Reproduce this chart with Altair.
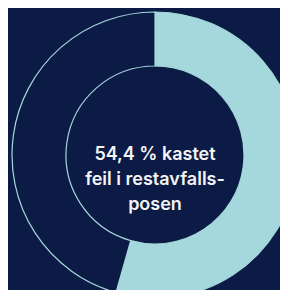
import altair as alt
import pandas as pd

parts = ["feil", "riktig"]
values = [54.4, 45.6]
order_idx = [0, 1]
label_lines = ["54,4 % kastet", "feil i restavfalls-", "posen"]

NAVY = "#0c1b45"
LIGHT = "#a5d8dc"

arc_df = pd.DataFrame({"part": parts, "value": values, "idx": order_idx})
txt_df = pd.DataFrame({"label": [label_lines]})

W, H = 272, 282
CX, CY = 147, 147

arcs = alt.Chart(arc_df).mark_arc(
    outerRadius=143, innerRadius=89, strokeWidth=1.2
).encode(
    theta=alt.Theta("value:Q", stack=True),
    color=alt.Color("part:N", scale=alt.Scale(domain=parts, range=[LIGHT, NAVY]), legend=None),
    stroke=alt.Stroke("part:N", scale=alt.Scale(domain=parts, range=[LIGHT, LIGHT]), legend=None),
    order=alt.Order("idx:Q"),
    x=alt.value(CX),
    y=alt.value(CY),
)

text = alt.Chart(txt_df).mark_text(
    font="Inter", fontSize=18, fontWeight=600, color="#f4f4f4",
    lineHeight=25, align="center", baseline="middle"
).encode(
    text="label:N",
    x=alt.value(CX),
    y=alt.value(CY),
)

chart = alt.layer(arcs, text).properties(
    width=W, height=H,
    autosize=alt.AutoSizeParams(type="none"),
    padding=0,
    background=NAVY,
).configure_view(stroke=None)

chart.save("out.html", embed_options={"renderer": "svg", "actions": False})
